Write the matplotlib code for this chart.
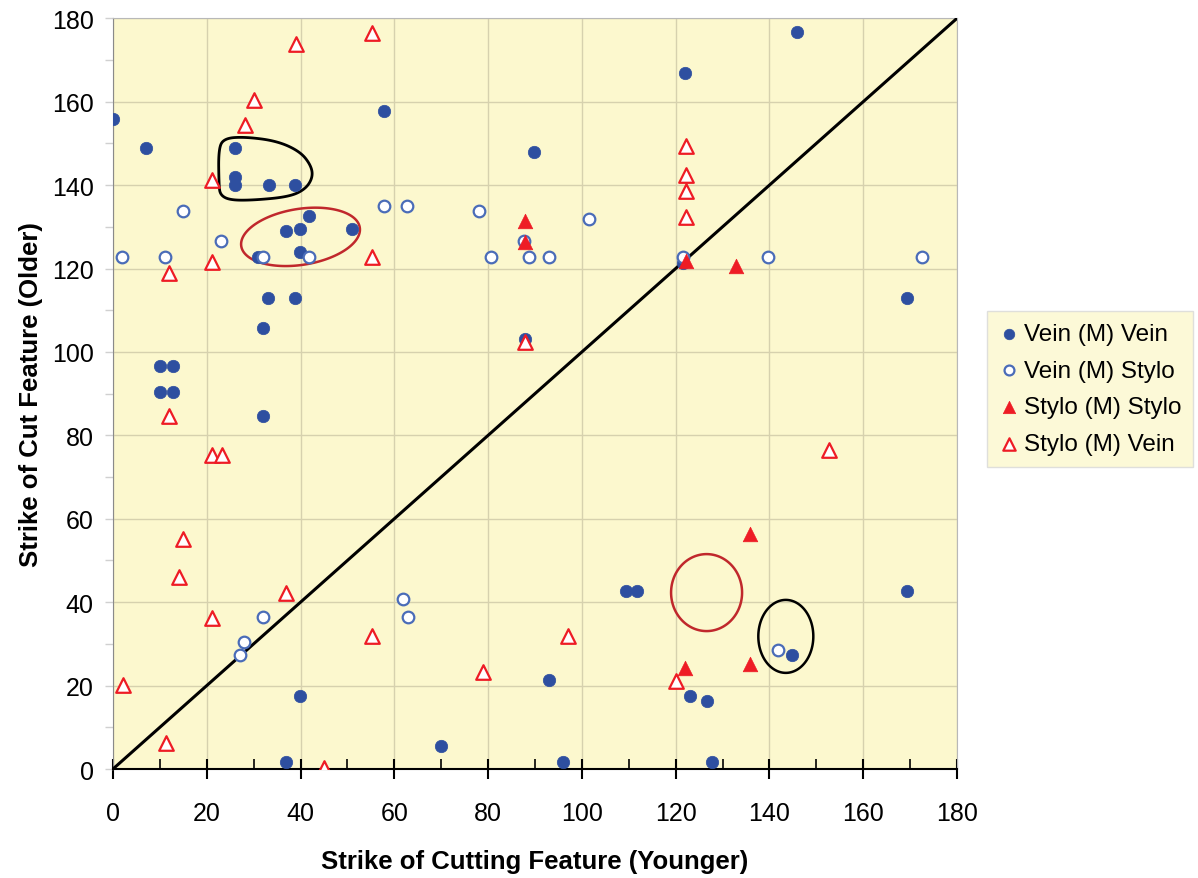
import numpy as np
import matplotlib
matplotlib.use("Agg")
import matplotlib.pyplot as plt
from matplotlib.patches import Polygon

plt.rcParams['font.family'] = ['Liberation Sans', 'DejaVu Sans']

# Vein (M) Vein
vv_x = [0.1, 7, 26, 26, 26, 33.2, 38.9, 57.8, 89.8, 122, 145.8, 41.9, 36.8, 39.9,
        51, 39.9, 31, 33.1, 38.9, 32, 10.1, 12.9, 10.1, 12.9, 32, 87.8, 121.6,
        169.4, 109.5, 111.7, 169.4, 144.8, 92.9, 123, 126.7, 127.7, 69.9, 95.9,
        39.9, 36.8]
vv_y = [155.9, 149, 149, 142, 140, 140, 140, 157.7, 147.9, 166.8, 176.7, 132.7,
        128.9, 129.6, 129.6, 123.9, 122.7, 112.9, 112.9, 105.7, 96.6, 96.6, 90.3,
        90.3, 84.7, 103, 121.3, 113, 42.6, 42.6, 42.6, 27.4, 21.3, 17.5, 16.4,
        1.6, 5.4, 1.6, 17.4, 1.6]

# Vein (M) Stylo
vs_x = [2, 11.2, 14.9, 23, 32, 41.9, 57.8, 62.8, 78, 80.7, 87.7, 88.8, 92.9,
        101.6, 121.6, 139.7, 172.6, 61.8, 62.9, 32, 27.9, 27.1, 141.8]
vs_y = [122.7, 122.7, 133.9, 126.7, 122.7, 122.7, 134.9, 134.9, 133.8, 122.7,
        126.7, 122.7, 122.7, 131.9, 122.7, 122.7, 122.7, 40.7, 36.5, 36.5, 30.5,
        27.4, 28.5]

# Stylo (M) Stylo
ss_x = [87.8, 87.8, 122.3, 132.8, 135.8, 122.1, 135.8]
ss_y = [131.5, 126.3, 121.9, 120.5, 56.4, 24.1, 25.2]

# Stylo (M) Vein
sv_x = [55.2, 39, 30.1, 28.1, 21.1, 21.1, 12, 55.2, 12, 21.1, 23.2, 14.9, 14,
        36.9, 21.1, 55.2, 2.1, 11.3, 45, 78.9, 97, 120, 152.8, 122.2, 122.2,
        122.2, 122.2, 87.8]
sv_y = [176.6, 173.9, 160.4, 154.4, 141.2, 121.6, 119, 122.8, 84.6, 75.3, 75.3,
        55.2, 46, 42.2, 36.2, 32, 20.1, 6.2, 0.2, 23.3, 32, 21.1, 76.5, 149.4,
        142.4, 138.6, 132.4, 102.4]

blue = '#2E4FA0'
blue_open = '#4A6CB8'
red = '#EE1C25'
bg = '#FCF8CE'

fig = plt.figure(figsize=(11.98, 8.79), dpi=100)
ax = fig.add_axes([0.0943, 0.124, 0.7045, 0.854])
ax.set_facecolor(bg)

ax.plot([0, 180], [0, 180], color='black', lw=2.2, zorder=3)

ax.scatter(vv_x, vv_y, s=80, marker='o', color=blue, edgecolors=blue,
           linewidths=0.5, zorder=4, label='Vein (M) Vein')
ax.scatter(vs_x, vs_y, s=70, marker='o', facecolors='white', edgecolors=blue_open,
           linewidths=1.6, zorder=5, label='Vein (M) Stylo')
ax.scatter(ss_x, ss_y, s=110, marker='^', color=red, edgecolors=red,
           linewidths=0.5, zorder=6, label='Stylo (M) Stylo')
ax.scatter(sv_x, sv_y, s=110, marker='^', facecolors='white', edgecolors=red,
           linewidths=1.6, zorder=7, label='Stylo (M) Vein')


def chaikin(pts, n=5):
    pts = np.asarray(pts, float)
    for _ in range(n):
        nxt = np.roll(pts, -1, axis=0)
        q = 0.75 * pts + 0.25 * nxt
        r = 0.25 * pts + 0.75 * nxt
        pts = np.empty((2 * len(q), 2))
        pts[0::2] = q
        pts[1::2] = r
    return pts


# black outline around the upper-left cluster
blob = [(22.6, 140.0), (22.9, 137.6), (25.0, 136.4), (30.0, 136.4), (37.5, 137.2),
        (41.0, 139.0), (42.6, 141.8), (42.3, 144.6), (40.0, 148.0), (35.0, 150.6),
        (28.0, 151.6), (23.6, 151.2), (22.5, 148.5)]
ax.add_patch(Polygon(chaikin(blob), closed=True, fill=False, edgecolor='black',
                     lw=2, zorder=3))

# ellipses drawn in pixel units, then converted to data units
px_x = 844 / 180.0
px_y = 751 / 180.0


def ellipse(cx, cy, a, bb, ang, color):
    t = np.linspace(0, 2 * np.pi, 200, endpoint=False)
    th = np.radians(ang)
    ex = a * np.cos(t) * np.cos(th) - bb * np.sin(t) * np.sin(th)
    ey = a * np.cos(t) * np.sin(th) + bb * np.sin(t) * np.cos(th)
    pts = np.column_stack([cx + ex / px_x, cy + ey / px_y])
    ax.add_patch(Polygon(pts, closed=True, fill=False, edgecolor=color,
                         lw=1.8, zorder=3))


ellipse(40.0, 127.6, 60, 28, 9, '#C0282C')
ellipse(126.6, 42.3, 35.5, 38.5, 0, '#C0282C')
ellipse(143.5, 31.8, 27.5, 36.5, 0, 'black')

ax.set_xlim(0, 180)
ax.set_ylim(0, 180)
ax.set_xticks(np.arange(0, 181, 20))
ax.set_yticks(np.arange(0, 181, 20))
ax.set_xticks(np.arange(0, 181, 10), minor=True)
ax.set_yticks(np.arange(0, 181, 10), minor=True)
ax.grid(True, which='major', color='#D6D1AE', lw=1, zorder=0)
ax.set_axisbelow(True)

ax.tick_params(axis='x', which='major', direction='inout', length=14, width=1.5,
               color='black', labelsize=18, pad=16)
ax.tick_params(axis='x', which='minor', direction='in', length=7, width=1.2,
               color='black')
ax.tick_params(axis='y', which='both', direction='out', length=6, width=1,
               color='#D0D0D0', labelsize=18, pad=8)

for side in ['top', 'right']:
    ax.spines[side].set_color('#B8B8B8')
ax.spines['left'].set_color('#8A8A8A')
ax.spines['bottom'].set_color('black')
ax.spines['bottom'].set_linewidth(1.5)

ax.set_xlabel('Strike of Cutting Feature (Younger)', fontsize=18.5,
              fontweight='bold', labelpad=17)
ax.set_ylabel('Strike of Cut Feature (Older)', fontsize=18.5,
              fontweight='bold', labelpad=6)

leg = fig.legend(loc='upper left', bbox_to_anchor=(0.824, 0.645), fontsize=17.5,
                 frameon=True, fancybox=False, facecolor=bg, edgecolor='#D8D8D8',
                 markerscale=0.85, handletextpad=0.2, handlelength=0.8,
                 labelspacing=0.6, borderpad=0.5, borderaxespad=0)
leg.get_frame().set_linewidth(1)

fig.savefig('out.png', dpi=100)
